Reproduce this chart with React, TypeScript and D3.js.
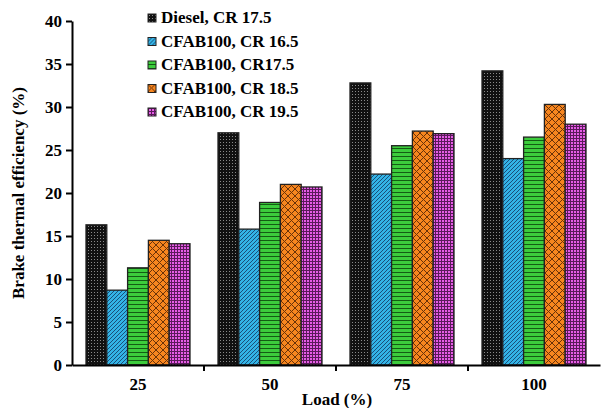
import React, { useEffect, useRef } from 'react';
import * as d3 from 'd3';

const loads = ['25', '50', '75', '100'];
const seriesNames = ['Diesel, CR 17.5', 'CFAB100, CR 16.5', 'CFAB100, CR17.5', 'CFAB100, CR 18.5', 'CFAB100, CR 19.5'];
const diesel = [16.3, 27.0, 32.8, 34.2];
const cr165 = [8.7, 15.8, 22.2, 24.0];
const cr175 = [11.3, 18.9, 25.5, 26.5];
const cr185 = [14.5, 21.0, 27.2, 30.3];
const cr195 = [14.1, 20.7, 26.9, 28.0];
const yTicks = [0, 5, 10, 15, 20, 25, 30, 35, 40];

const allSeries = [diesel, cr165, cr175, cr185, cr195];
const patternIds = ['pDiesel', 'pBlue', 'pGreen', 'pOrange', 'pMagenta'];

const App = () => {
  const ref = useRef<SVGSVGElement>(null);

  useEffect(() => {
    document.body.style.margin = '0';
    const svg = d3.select(ref.current);
    svg.selectAll('*').remove();

    const margin = { top: 21, right: 9, bottom: 43, left: 72 };
    const width = 609 - margin.left - margin.right;
    const height = 408 - margin.top - margin.bottom;
    const font = '"Liberation Serif", "Times New Roman", serif';

    // patterns for the bar fills
    const defs = svg.append('defs');
    const dots = defs.append('pattern').attr('id', 'pDiesel').attr('patternUnits', 'userSpaceOnUse').attr('width', 3).attr('height', 3);
    dots.append('rect').attr('width', 3).attr('height', 3).attr('fill', '#111');
    dots.append('rect').attr('x', 1).attr('y', 1).attr('width', 1).attr('height', 1).attr('fill', '#8a8a8a');

    const blue = defs.append('pattern').attr('id', 'pBlue').attr('patternUnits', 'userSpaceOnUse').attr('width', 4).attr('height', 4);
    blue.append('rect').attr('width', 4).attr('height', 4).attr('fill', '#33b4e6');
    blue.append('path').attr('d', 'M-1,1 l2,-2 M0,4 l4,-4 M3,5 l2,-2').attr('stroke', '#1a4f7a').attr('stroke-width', 1);

    const green = defs.append('pattern').attr('id', 'pGreen').attr('patternUnits', 'userSpaceOnUse').attr('width', 4).attr('height', 4);
    green.append('rect').attr('width', 4).attr('height', 4).attr('fill', '#3ccc3c');
    green.append('rect').attr('y', 3).attr('width', 4).attr('height', 1).attr('fill', '#145c14');

    const orange = defs.append('pattern').attr('id', 'pOrange').attr('patternUnits', 'userSpaceOnUse').attr('width', 7).attr('height', 7);
    orange.append('rect').attr('width', 7).attr('height', 7).attr('fill', '#f7861f');
    orange.append('path').attr('d', 'M0,0 L7,7 M7,0 L0,7').attr('stroke', '#6a3208').attr('stroke-width', 1);

    const mag = defs.append('pattern').attr('id', 'pMagenta').attr('patternUnits', 'userSpaceOnUse').attr('width', 3).attr('height', 3);
    mag.append('rect').attr('width', 3).attr('height', 3).attr('fill', '#e65ce6');
    mag.append('path').attr('d', 'M0,0.5 H3 M0.5,0 V3').attr('stroke', '#5a1a5a').attr('stroke-width', 1);

    const g = svg.append('g').attr('transform', `translate(${margin.left},${margin.top})`);

    const x0 = d3.scaleBand().domain(loads).range([0, width]).paddingInner(0).paddingOuter(0);
    const step = x0.step();
    const groupPad = 14;
    const x1 = d3.scaleBand().domain(seriesNames).range([groupPad, step - groupPad]).padding(0);
    const y = d3.scaleLinear().domain([0, 40]).range([height, 0]);

    // bars
    loads.forEach((load, i) => {
      const grp = g.append('g').attr('transform', `translate(${x0(load)},0)`);
      grp.selectAll('rect')
        .data(seriesNames.map((name, j) => ({ name, v: allSeries[j][i], j })))
        .enter()
        .append('rect')
        .attr('x', (d) => x1(d.name) as number)
        .attr('width', x1.bandwidth())
        .attr('y', (d) => y(d.v))
        .attr('height', (d) => height - y(d.v))
        .attr('fill', (d) => `url(#${patternIds[d.j]})`)
        .attr('stroke', '#222')
        .attr('stroke-width', 1.3);
    });

    // y axis
    const yAxis = g.append('g')
      .call(d3.axisLeft(y).tickValues(yTicks).tickSize(6).tickSizeOuter(0).tickPadding(4));
    yAxis.select('.domain').attr('stroke', '#000').attr('stroke-width', 2);
    yAxis.selectAll('line').attr('stroke', '#000').attr('stroke-width', 2);
    yAxis.selectAll('text').style('font-family', font).style('font-size', '17px').style('font-weight', 'bold').attr('fill', '#000');

    // x axis, labels at centers, ticks at group boundaries
    const xAxis = g.append('g').attr('transform', `translate(0,${height})`)
      .call(d3.axisBottom(x0).tickSize(0).tickPadding(13));
    xAxis.select('.domain').attr('stroke', '#000').attr('stroke-width', 2);
    xAxis.selectAll('text').style('font-family', font).style('font-size', '17px').style('font-weight', 'bold').attr('fill', '#000');
    xAxis.selectAll('.bound')
      .data(loads.slice(1))
      .enter()
      .append('line')
      .attr('x1', (d) => x0(d) as number)
      .attr('x2', (d) => x0(d) as number)
      .attr('y1', 0)
      .attr('y2', 6)
      .attr('stroke', '#000')
      .attr('stroke-width', 2);

    // axis titles
    svg.append('text')
      .attr('transform', `translate(24,${margin.top + height / 2}) rotate(-90)`)
      .attr('text-anchor', 'middle')
      .style('font-family', font).style('font-size', '17px').style('font-weight', 'bold')
      .text('Brake thermal efficiency (%)');
    svg.append('text')
      .attr('x', 337)
      .attr('y', 405)
      .attr('text-anchor', 'middle')
      .style('font-family', font).style('font-size', '17px').style('font-weight', 'bold')
      .text('Load (%)');

    // legend
    const legend = svg.append('g').attr('transform', 'translate(148,14)');
    seriesNames.forEach((name, j) => {
      const row = legend.append('g').attr('transform', `translate(0,${j * 23.5})`);
      row.append('rect').attr('width', 8).attr('height', 8)
        .attr('fill', `url(#${patternIds[j]})`).attr('stroke', '#222').attr('stroke-width', 1);
      row.append('text').attr('x', 13).attr('y', 9)
        .style('font-family', font).style('font-size', '17px').style('font-weight', 'bold')
        .text(name);
    });
  }, []);

  return <svg ref={ref} width={609} height={408} style={{ display: 'block' }} />;
};

export default App;
